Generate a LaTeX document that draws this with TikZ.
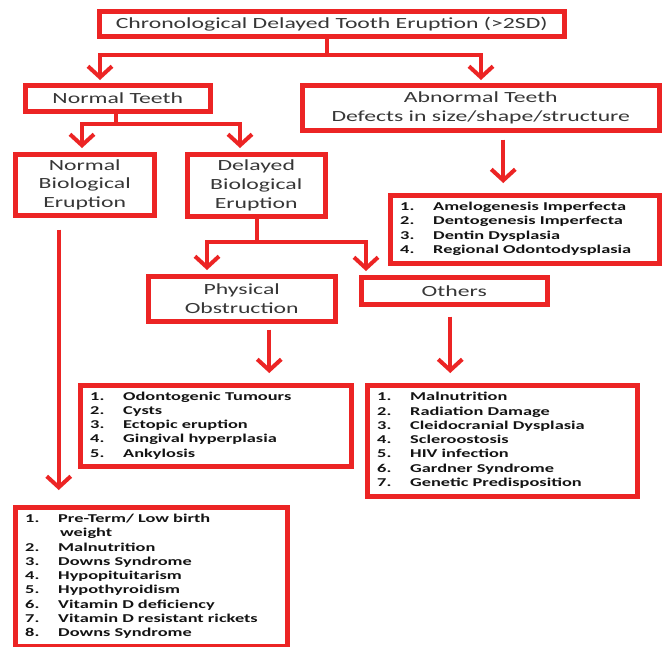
\documentclass[tikz,border=0pt]{standalone}
\usepackage{fontspec}
\setmainfont{Carlito}[FakeStretch=1.53]
\usetikzlibrary{arrows.meta}
\definecolor{boxred}{RGB}{236,36,36}
\definecolor{labelgray}{RGB}{55,55,55}
\definecolor{itemblack}{RGB}{20,20,20}
\tikzset{
  box/.style={draw=boxred, line width=4.5pt, inner sep=0pt, anchor=north west,
    align=center, text=labelgray, font=\fontsize{15.5}{18.7}\selectfont},
  listbox/.style={draw=boxred, line width=4.5pt, inner sep=0pt, anchor=north west},
  listtext/.style={anchor=west, inner sep=0pt, text=itemblack,
    font=\bfseries\fontsize{12}{14.3}\selectfont},
  conn/.style={draw=boxred, line width=4pt, -{Straight Barb[length=11pt,width=24pt]}},
}
\newcommand{\mylist}[1]{\begin{tabular}{@{}p{33pt}@{}l@{}}#1\end{tabular}}
\begin{document}
\begin{tikzpicture}[x=1pt,y=-1pt]
\useasboundingbox[fill=white] (0,0) rectangle (662,646);
% boxes
\node[box, minimum width=465pt, minimum height=25pt] (top) at (97,9) {Chronological Delayed Tooth Eruption (>2SD)};
\node[box, minimum width=185pt, minimum height=26pt] (nt) at (23,83) {Normal Teeth};
\node[box, minimum width=357pt, minimum height=45pt] (ab) at (300,83) {Abnormal Teeth\\Defects in size/shape/structure};
\node[box, minimum width=139pt, minimum height=61pt] (nbio) at (13,152) {Normal\\Biological\\Eruption};
\node[box, minimum width=138pt, minimum height=62pt] (dbio) at (185,152) {Delayed\\Biological\\Eruption};
\node[box, minimum width=187pt, minimum height=45pt] (phys) at (146,274) {Physical\\Obstruction};
\node[box, minimum width=186pt, minimum height=27pt] (oth) at (359,275) {Others};
% list boxes
\node[listbox, minimum width=269pt, minimum height=68pt] (ame) at (388,193) {};
\node[listbox, minimum width=271pt, minimum height=81pt] (odon) at (78,383) {};
\node[listbox, minimum width=270pt, minimum height=111pt] (mal) at (365,383) {};
\node[listbox, minimum width=272pt, minimum height=139pt] (pre) at (13,505) {};
\node[listtext] (amet) at ([xshift=12pt]ame.west) {\mylist{%
1. & Amelogenesis Imperfecta\\
2. & Dentogenesis Imperfecta\\
3. & Dentin Dysplasia\\
4. & Regional Odontodysplasia}};
\node[listtext] (odont) at ([xshift=12pt]odon.west) {\mylist{%
1. & Odontogenic Tumours\\
2. & Cysts\\
3. & Ectopic eruption\\
4. & Gingival hyperplasia\\
5. & Ankylosis}};
\node[listtext] (malt) at ([xshift=12pt]mal.west) {\mylist{%
1. & Malnutrition\\
2. & Radiation Damage\\
3. & Cleidocranial Dysplasia\\
4. & Scleroostosis\\
5. & HIV infection\\
6. & Gardner Syndrome\\
7. & Genetic Predisposition}};
\node[listtext] (pret) at ([xshift=12pt]pre.west) {\mylist{%
1. & Pre-Term/ Low birth\\
   & \hspace{2pt}weight\\
2. & Malnutrition\\
3. & Downs Syndrome\\
4. & Hypopituitarism\\
5. & Hypothyroidism\\
6. & Vitamin D deficiency\\
7. & Vitamin D resistant rickets\\
8. & Downs Syndrome}};
% branch points
\coordinate (j1) at (327,55);
\coordinate (a1) at (100,55);
\coordinate (a2) at (481,55);
\coordinate (j2) at (116,124);
\coordinate (b1) at (82,124);
\coordinate (b2) at (240,124);
\coordinate (j3) at (257,242);
\coordinate (c1) at (207,242);
\coordinate (c2) at (366,242);
% connectors
\draw[conn, shorten >=3pt] (top.south -| j1) -- (j1) -- (a1) -- (a1 |- nt.north);
\draw[conn, shorten >=3pt] (j1) -- (a2) -- (a2 |- ab.north);
\draw[conn, shorten >=4pt] (nt.south -| j2) -- (j2) -- (b1) -- (b1 |- nbio.north);
\draw[conn, shorten >=4pt] (j2) -- (b2) -- (b2 |- dbio.north);
\draw[conn, shorten >=4pt] (dbio.south -| j3) -- (j3) -- (c1) -- (c1 |- phys.north);
\draw[conn, shorten >=4pt] (j3) -- (c2) -- (c2 |- oth.north);
\draw[conn, shorten <=7pt, shorten >=10pt] ([xshift=22.5pt]ab.south) -- ([xshift=22.5pt]ab.south |- ame.north);
\draw[conn, shorten <=6pt, shorten >=10pt] ([xshift=27.5pt]phys.south) -- ([xshift=27.5pt]phys.south |- odon.north);
\draw[conn, shorten <=10pt, shorten >=10pt] ([xshift=-4pt]oth.south) -- ([xshift=-4pt]oth.south |- mal.north);
\draw[conn, shorten <=12pt, shorten >=15pt] ([xshift=-26pt]nbio.south) -- ([xshift=-26pt]nbio.south |- pre.north);
\end{tikzpicture}
\end{document}
